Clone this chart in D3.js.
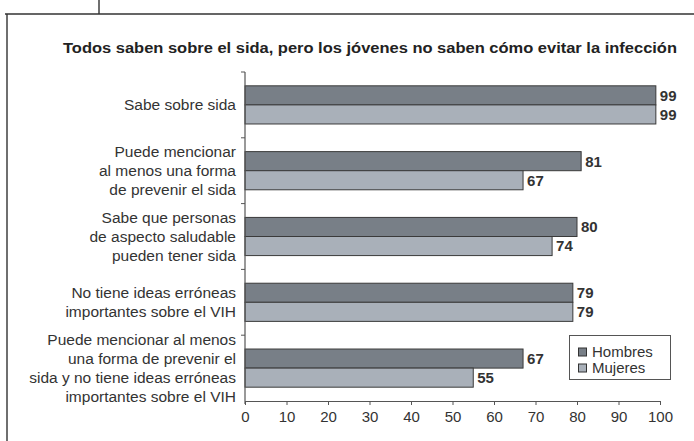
<!DOCTYPE html>
<html>
<head>
<meta charset="utf-8">
<script src="https://cdn.jsdelivr.net/npm/d3@7"></script>
<style>
  body { margin: 0; background: #fff; }
  svg { display: block; font-family: Arial, "Liberation Sans", Helvetica, sans-serif; }
</style>
</head>
<body>
<svg id="chart" width="694" height="441"></svg>
<script>
/* Grouped horizontal bars: Hombres vs Mujeres */
const categories = [
  ["Sabe sobre sida"],
  ["Puede mencionar", "al menos una forma", "de prevenir el sida"],
  ["Sabe que personas", "de aspecto saludable", "pueden tener sida"],
  ["No tiene ideas erróneas", "importantes sobre el VIH"],
  ["Puede mencionar al menos", "una forma de prevenir el", "sida y no tiene ideas erróneas", "importantes sobre el VIH"]
];
const series = ["Hombres", "Mujeres"];
const hombres = [99, 81, 80, 79, 67];
const mujeres = [99, 67, 74, 79, 55];
const xTicks = [0, 10, 20, 30, 40, 50, 60, 70, 80, 90, 100];

const colors = { "Hombres": "#787f87", "Mujeres": "#a9b0b9" };

const svg = d3.select("#chart");

// Frame lines
svg.append("path")
  .attr("d", "M99,0V14M5,14H694M7,14V441")
  .attr("fill", "none")
  .attr("stroke", "#333")
  .attr("stroke-width", 1.4);

// Title
svg.append("text")
  .attr("x", 370).attr("y", 52.5)
  .attr("text-anchor", "middle")
  .attr("font-weight", "700")
  .attr("font-size", "14.5px")
  .attr("fill", "#222")
  .attr("textLength", 614)
  .attr("lengthAdjust", "spacingAndGlyphs")
  .text("Todos saben sobre el sida, pero los jóvenes no saben cómo evitar la infección");

const idx = d3.range(categories.length);

const x = d3.scaleLinear().domain([0, 100]).range([245, 660]);
const y = d3.scaleBand().domain(idx).range([72, 401])
  .paddingInner(0.42).paddingOuter(0.21);
const ySub = d3.scaleBand().domain(series).range([0, y.bandwidth()]);

const rows = idx.map(i => ({ i, values: [
  { key: "Hombres", v: hombres[i] },
  { key: "Mujeres", v: mujeres[i] }
]}));

// Bars
const grp = svg.append("g").selectAll("g")
  .data(rows).join("g")
  .attr("transform", d => `translate(0,${y(d.i)})`);

grp.selectAll("rect")
  .data(d => d.values).join("rect")
  .attr("x", x(0))
  .attr("y", d => ySub(d.key))
  .attr("width", d => x(d.v) - x(0))
  .attr("height", ySub.bandwidth())
  .attr("fill", d => colors[d.key])
  .attr("stroke", "#3a3a3a")
  .attr("stroke-width", 1);

grp.selectAll("text")
  .data(d => d.values).join("text")
  .attr("x", d => x(d.v) + 4)
  .attr("y", d => ySub(d.key) + ySub.bandwidth() / 2)
  .attr("dy", "0.36em")
  .attr("font-weight", "700")
  .attr("font-size", "15px")
  .attr("fill", "#333")
  .text(d => d.v);

// X axis
const xAxis = svg.append("g")
  .attr("transform", "translate(0,401)")
  .call(d3.axisBottom(x).tickValues(xTicks).tickSize(4).tickSizeOuter(0));
xAxis.select(".domain").attr("stroke", "#555").attr("stroke-width", 1.2);
xAxis.selectAll(".tick line").attr("stroke", "#555");
xAxis.selectAll(".tick text")
  .attr("y", 10)
  .attr("font-size", "15px")
  .attr("font-family", "Arial, 'Liberation Sans', sans-serif")
  .attr("fill", "#333");

// Y axis line with ticks at category boundaries
const yAxis = svg.append("g");
yAxis.append("line")
  .attr("x1", x(0)).attr("x2", x(0))
  .attr("y1", y.range()[0]).attr("y2", y.range()[1] + 3)
  .attr("stroke", "#555").attr("stroke-width", 1.2);
const bounds = idx.map(i => y(i) - y.step() * y.paddingOuter());
yAxis.selectAll("line.tk")
  .data(bounds).join("line")
  .attr("class", "tk")
  .attr("x1", x(0) - 4).attr("x2", x(0))
  .attr("y1", d => d).attr("y2", d => d)
  .attr("stroke", "#555");

// Category labels
const lineH = 19;
const lab = svg.append("g").selectAll("text")
  .data(idx).join("text")
  .attr("text-anchor", "end")
  .attr("font-size", "15.5px")
  .attr("fill", "#333");
lab.each(function(i) {
  const lines = categories[i];
  const cy = y(i) + y.bandwidth() / 2;
  d3.select(this).selectAll("tspan")
    .data(lines).join("tspan")
    .attr("x", 236)
    .attr("y", (d, k) => cy + (k - (lines.length - 1) / 2) * lineH)
    .attr("dy", "0.35em")
    .text(d => d);
});

// Legend
const legend = svg.append("g");
legend.append("rect")
  .attr("x", 569.5).attr("y", 335.5)
  .attr("width", 101).attr("height", 44)
  .attr("fill", "#fff").attr("stroke", "#555").attr("stroke-width", 1);
series.forEach((s, k) => {
  const cy = 351.5 + k * 16;
  legend.append("rect")
    .attr("x", 578.5).attr("y", cy - 3.5)
    .attr("width", 8).attr("height", 8)
    .attr("fill", colors[s]).attr("stroke", "#333").attr("stroke-width", 1);
  legend.append("text")
    .attr("x", 592).attr("y", cy)
    .attr("dy", "0.35em")
    .attr("font-size", "15px")
    .attr("fill", "#333")
    .text(s);
});
</script>
</body>
</html>
